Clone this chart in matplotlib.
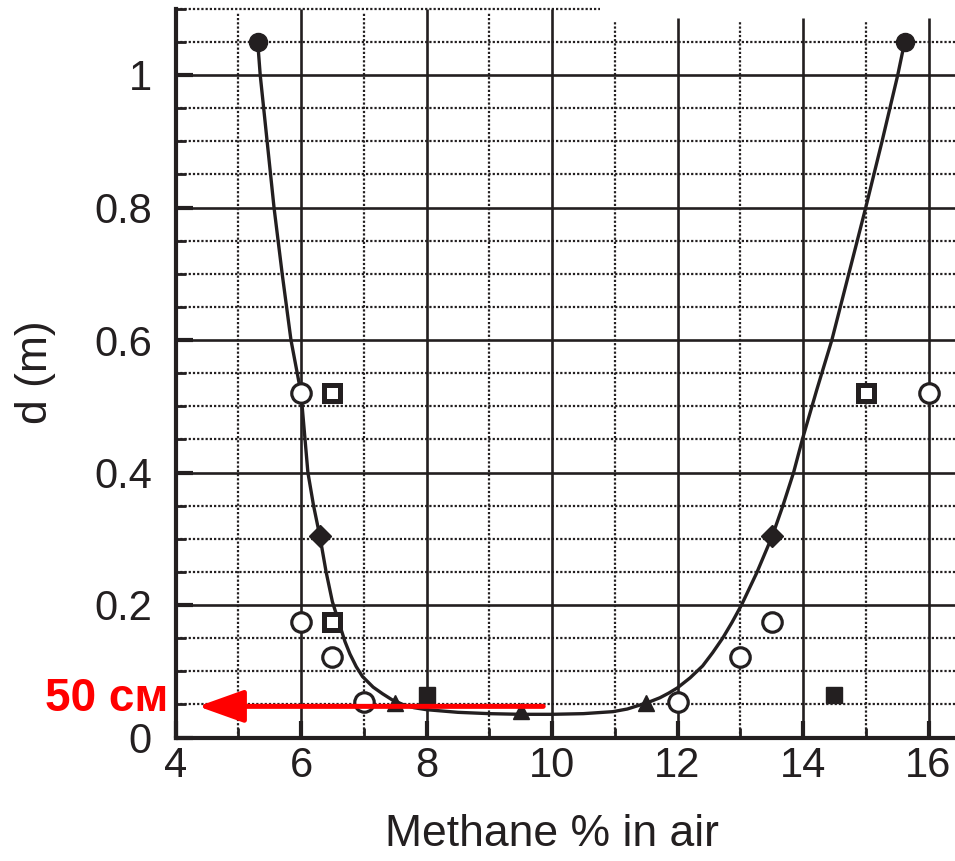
import numpy as np
import matplotlib.pyplot as plt
from matplotlib.ticker import MultipleLocator, FixedLocator

plt.rcParams['font.family'] = ['Liberation Sans', 'DejaVu Sans']

INK = '#231f20'

# measured points, d in metres against methane concentration
full_circle_x = [5.31, 15.62]
full_circle_y = [1.05, 1.05]
open_circle_x = [6.0, 16.0, 6.0, 6.5, 7.0, 12.0, 13.0, 13.5]
open_circle_y = [0.52, 0.52, 0.174, 0.122, 0.054, 0.054, 0.122, 0.174]
open_square_x = [6.5, 15.0, 6.5]
open_square_y = [0.52, 0.52, 0.174]
full_square_x = [8.0, 14.5]
full_square_y = [0.064, 0.064]
diamond_x = [6.3, 13.5]
diamond_y = [0.304, 0.304]
triangle_x = [7.5, 9.5, 11.5]
triangle_y = [0.052, 0.04, 0.052]

# fitted envelope curve
curve_x = [5.31, 5.35, 5.46, 5.57, 5.70, 5.84, 6.00, 6.11, 6.20, 6.30, 6.40,
           6.50, 6.61, 6.70, 6.78, 6.88, 6.98, 7.15, 7.30, 7.45, 7.62, 7.80,
           8.00, 8.50, 9.00, 9.50, 10.00, 10.50, 10.97, 11.20, 11.40, 11.56,
           11.72, 11.86, 12.00, 12.20, 12.40, 12.56, 12.72, 12.87, 13.02,
           13.26, 13.51, 13.68, 13.85, 13.99, 14.22, 14.46, 14.73, 15.00,
           15.26, 15.51, 15.62]
curve_y = [1.05, 1.0, 0.90, 0.80, 0.70, 0.60, 0.52, 0.40, 0.35, 0.304, 0.25,
           0.205, 0.172, 0.145, 0.126, 0.107, 0.092, 0.076, 0.066, 0.057,
           0.050, 0.045, 0.042, 0.038, 0.036, 0.035, 0.035, 0.036, 0.039,
           0.043, 0.049, 0.054, 0.060, 0.067, 0.075, 0.090, 0.108, 0.128,
           0.150, 0.174, 0.200, 0.248, 0.304, 0.350, 0.400, 0.450, 0.525,
           0.600, 0.700, 0.800, 0.900, 1.000, 1.05]

x_ticks = [4, 6, 8, 10, 12, 14, 16]
y_ticks = [0, 0.2, 0.4, 0.6, 0.8, 1.0]
y_tick_labels = ['0', '0.2', '0.4', '0.6', '0.8', '1']

note_text = '50 см'
arrow_from = 9.86
arrow_to = 4.36
arrow_y = 0.047

fig = plt.figure(figsize=(9.55, 8.61), dpi=100)
ax = fig.add_axes([175.5 / 955, 1 - 737.5 / 861, 1 - 175.5 / 955, (737.5 - 8.75) / 861])
ax.set_xlim(4, 4 + (955 - 175.5) / 62.75)
ax.set_ylim(0, 1.1)

# grid: solid every 2 % / 0.2 m, dotted in between
for xv in range(5, 17):
    solid = xv % 2 == 0
    top = (1.1 if solid else 1.094) if xv <= 10 else (1.086 if solid else 1.08)
    ax.plot([xv, xv], [0, top], color=INK, lw=1.9 if solid else 1.6,
            ls='-' if solid else (0, (1, 0.9)), zorder=1, solid_capstyle='butt')
for yv in np.round(np.arange(0.05, 1.06, 0.05), 2):
    solid = abs(yv / 0.2 - round(yv / 0.2)) < 1e-6
    ax.axhline(yv, color=INK, lw=1.9 if solid else 1.6,
               ls='-' if solid else (0, (1, 0.9)), zorder=1)
ax.plot([4, 10.77], [1.1, 1.1], color=INK, lw=1.6, ls=(0, (1, 0.9)), zorder=1,
        clip_on=False)

ax.plot(curve_x, curve_y, color=INK, lw=2.4, zorder=2)

mk = dict(ls='none', zorder=3, clip_on=False)
ax.plot(full_circle_x, full_circle_y, 'o', ms=13, color=INK, **mk)
ax.plot(open_circle_x, open_circle_y, 'o', ms=14, mfc='white', mec=INK, mew=2.3, **mk)
ax.plot(open_square_x, open_square_y, 's', ms=11, mfc='white', mec=INK, mew=3.6, **mk)
ax.plot(full_square_x, full_square_y, 's', ms=12, color=INK, **mk)
ax.plot(diamond_x, diamond_y, 'D', ms=11, color=INK, **mk)
ax.plot(triangle_x, triangle_y, '^', ms=11, color=INK, **mk)

for side in ['top', 'right']:
    ax.spines[side].set_visible(False)
for side in ['left', 'bottom']:
    ax.spines[side].set_linewidth(3)
    ax.spines[side].set_color(INK)

ax.xaxis.set_major_locator(FixedLocator(x_ticks))
ax.xaxis.set_minor_locator(MultipleLocator(1))
ax.yaxis.set_major_locator(FixedLocator(y_ticks))
ax.yaxis.set_minor_locator(MultipleLocator(0.05))
ax.set_yticklabels(y_tick_labels)
ax.tick_params(which='major', direction='in', length=12, width=3, color=INK,
               labelsize=30, labelcolor=INK)
ax.tick_params(which='minor', direction='in', length=7.5, width=2, color=INK)
ax.tick_params(axis='y', which='major', pad=17)
ax.tick_params(axis='x', which='major', pad=6)

fig.text(552 / 955, 1 - 834 / 861, 'Methane % in air', fontsize=32, color=INK,
         ha='center', va='center')
fig.text(35 / 955, 1 - 372 / 861, 'd (m)', fontsize=32, color=INK, rotation=90,
         ha='center', va='center')

ax.annotate('', xy=(arrow_to, arrow_y), xytext=(arrow_from, arrow_y),
            arrowprops=dict(arrowstyle='-|>,head_length=28,head_width=10',
                            mutation_scale=1, color='red', lw=3.6,
                            shrinkA=0, shrinkB=0),
            annotation_clip=False, zorder=5)
ax.text(4 - (175.5 - 168) / 62.75, 0.0585, note_text, color='red', fontsize=33,
        fontweight='bold', ha='right', va='center', clip_on=False)

fig.savefig('out.png', dpi=100)
